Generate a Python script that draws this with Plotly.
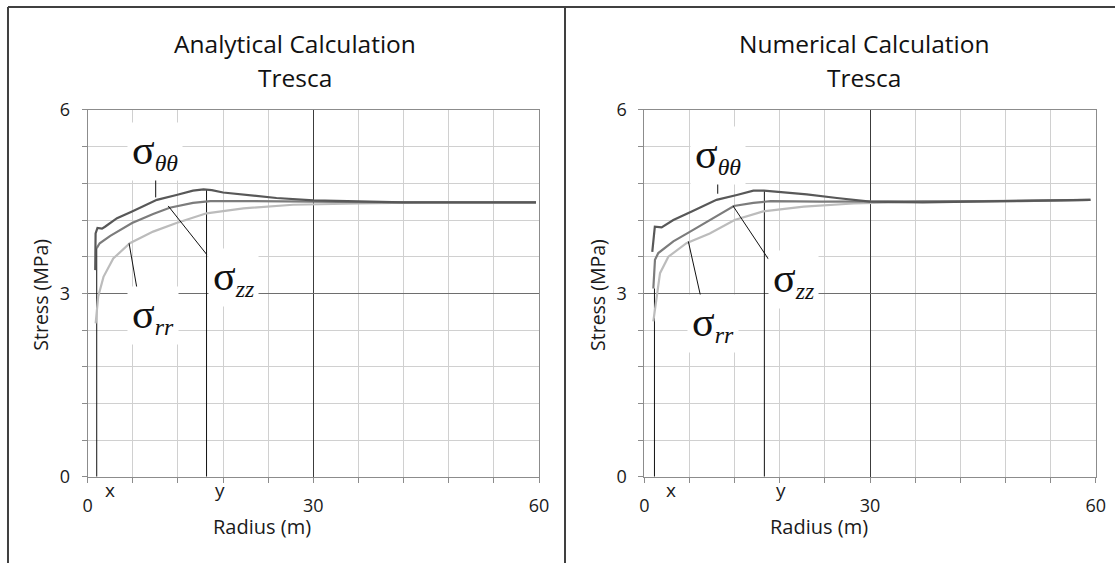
import plotly.graph_objects as go

# ---------------- data ----------------
# Analytical (left panel)
ana_r_tt = [1.0, 1.05, 1.3, 1.9, 2.3, 3.9, 5.9, 9.2, 11.8, 14.0, 15.4, 16.5, 18.0, 21.1, 25.1, 30.0, 36.0, 42.0, 50.0, 59.6]
ana_s_tt = [3.38, 3.98, 4.07, 4.06, 4.09, 4.23, 4.34, 4.53, 4.61, 4.68, 4.70, 4.69, 4.65, 4.61, 4.56, 4.52, 4.50, 4.49, 4.49, 4.49]
ana_r_zz = [1.2, 1.6, 3.0, 4.5, 5.9, 8.7, 10.9, 14.0, 16.3, 20.0, 23.0, 30.0, 40.0, 50.0, 59.6]
ana_s_zz = [3.74, 3.82, 3.94, 4.05, 4.15, 4.30, 4.40, 4.48, 4.51, 4.51, 4.51, 4.50, 4.49, 4.49, 4.49]
ana_r_rr = [1.06, 1.4, 2.1, 3.4, 5.6, 8.7, 11.8, 15.8, 20.7, 27.3, 36.2, 45.0, 59.6]
ana_s_rr = [2.51, 2.95, 3.27, 3.57, 3.82, 4.01, 4.15, 4.31, 4.39, 4.45, 4.47, 4.49, 4.49]
ana_marks = [1.2, 15.8]   # radii x and y

# Numerical (right panel)
num_r_tt = [1.06, 1.4, 2.3, 3.86, 6.3, 9.6, 12.3, 14.5, 15.9, 18.0, 21.6, 25.6, 30.0, 37.0, 45.0, 52.0, 59.3]
num_s_tt = [3.68, 4.09, 4.08, 4.20, 4.34, 4.53, 4.61, 4.68, 4.68, 4.66, 4.62, 4.56, 4.50, 4.49, 4.50, 4.51, 4.53]
num_r_zz = [1.2, 1.42, 1.86, 3.86, 6.1, 9.2, 11.9, 14.5, 16.8, 23.5, 30.0, 40.0, 50.0, 59.3]
num_s_zz = [3.08, 3.55, 3.66, 3.85, 4.01, 4.23, 4.43, 4.48, 4.51, 4.50, 4.50, 4.50, 4.51, 4.53]
num_r_rr = [1.2, 1.55, 2.09, 3.2, 5.6, 8.7, 12.0, 15.8, 21.2, 27.8, 37.0, 45.0, 59.3]
num_s_rr = [2.54, 2.89, 3.33, 3.60, 3.82, 3.98, 4.20, 4.34, 4.42, 4.47, 4.50, 4.51, 4.53]
num_marks = [1.35, 15.96]

mark_names = ["x", "y"]
titles = ["Analytical Calculation", "Numerical Calculation"]
subtitle = "Tresca"
x_title = "Radius (m)"
y_title = "Stress (MPa)"
SIG = '<span style="font-size:42px">σ</span>'
labels = [SIG + "<sub><i>θθ</i></sub>", SIG + "<sub><i>zz</i></sub>", SIG + "<sub><i>rr</i></sub>"]

# label positions (data coords) and leader lines, per panel
label_pos = [
    [(8.95, 5.32), (19.4, 3.26), (8.7, 2.63)],
    [(9.75, 5.25), (19.8, 3.22), (9.1, 2.50)],
]
leaders = [
    [((9.04, 4.98), (9.04, 4.57)), ((10.7, 4.43), (15.8, 3.64)), ((5.5, 3.82), (6.86, 2.86))],
    [((9.76, 4.88), (9.76, 4.63)), ((11.8, 4.43), (16.5, 3.56)), ((5.85, 3.85), (7.6, 2.89))],
]

colors = {"tt": "#585858", "zz": "#7c7c7c", "rr": "#bcbcbc"}
FONT = "Open Sans"

fig = go.Figure()

panels = [
    ("x", "y", [(ana_r_tt, ana_s_tt, "tt"), (ana_r_zz, ana_s_zz, "zz"), (ana_r_rr, ana_s_rr, "rr")], ana_marks),
    ("x2", "y2", [(num_r_tt, num_s_tt, "tt"), (num_r_zz, num_s_zz, "zz"), (num_r_rr, num_s_rr, "rr")], num_marks),
]

for xa, ya, series, marks in panels:
    tt_s = series[0][1]
    zz_s = series[1][1]
    tops = [zz_s[0], max(tt_s)]
    for m, top in zip(marks, tops):
        fig.add_trace(go.Scatter(x=[m, m], y=[0, top], mode="lines",
                                 line=dict(color="#111111", width=1),
                                 xaxis=xa, yaxis=ya, showlegend=False, hoverinfo="skip"))
    for r, s, key in reversed(series):
        fig.add_trace(go.Scatter(x=r, y=s, mode="lines",
                                 line=dict(color=colors[key], width=2.2),
                                 xaxis=xa, yaxis=ya, showlegend=False))

dom_x = [[0.07865, 0.48341], [0.57785, 0.98269]]
dom_y = [0.15328, 0.80462]

def xaxis_cfg(dom, anchor):
    return dict(domain=dom, anchor=anchor, range=[0, 60], dtick=30, tick0=0,
                showgrid=True, gridcolor="#3c3c3c", gridwidth=1,
                showline=True, linecolor="#8c8c8c", linewidth=1, mirror=True,
                ticks="outside", ticklen=5, tickcolor="#8c8c8c",
                ticklabelstandoff=8,
                minor=dict(dtick=6, tick0=0, showgrid=True, gridcolor="#d0d0d0", gridwidth=1,
                           ticks="outside", ticklen=5, tickcolor="#8c8c8c"),
                tickfont=dict(family=FONT, size=18, color="#1a1a1a"),
                zeroline=False, fixedrange=True, automargin=False)

def yaxis_cfg(anchor):
    return dict(domain=dom_y, anchor=anchor, range=[0, 6], dtick=3, tick0=0,
                showgrid=True, gridcolor="#6e6e6e", gridwidth=1,
                showline=True, linecolor="#8c8c8c", linewidth=1, mirror=True,
                ticks="outside", ticklen=5, tickcolor="#8c8c8c",
                ticklabelstandoff=8,
                minor=dict(dtick=0.6, tick0=0, showgrid=True, gridcolor="#d0d0d0", gridwidth=1,
                           ticks="outside", ticklen=5, tickcolor="#8c8c8c"),
                tickfont=dict(family=FONT, size=18, color="#1a1a1a"),
                zeroline=False, fixedrange=True, automargin=False)

annotations = []
shapes = []
title_x = [0.2646, 0.7749]
xt_x = [0.23498, 0.73453]
yt_x = [0.0356, 0.5354]
mark_shift = [6, 10]

def ann(**kw):
    kw.setdefault("showarrow", False)
    kw.setdefault("xanchor", "center")
    kw.setdefault("yanchor", "middle")
    return kw

for i, (xa, ya, series, marks) in enumerate(panels):
    annotations.append(ann(text=titles[i], x=title_x[i], y=0.92185, xref="paper", yref="paper",
                           font=dict(family=FONT, size=24.5, color="#111111")))
    annotations.append(ann(text=subtitle, x=title_x[i], y=0.86146, xref="paper", yref="paper",
                           font=dict(family=FONT, size=24.5, color="#111111")))
    annotations.append(ann(text=x_title, x=xt_x[i], y=0.064, xref="paper", yref="paper",
                           font=dict(family=FONT, size=20, color="#1a1a1a")))
    annotations.append(ann(text=y_title, x=yt_x[i], y=0.476, xref="paper", yref="paper",
                           textangle=-90, font=dict(family=FONT, size=19.5, color="#1a1a1a")))
    for name, m in zip(mark_names, marks):
        annotations.append(ann(text=name, x=m, y=0.1297, xref=xa, yref="paper",
                               xanchor="left", xshift=mark_shift[i],
                               font=dict(family=FONT, size=19, color="#1a1a1a")))
    for (p0, p1) in leaders[i]:
        shapes.append(dict(type="line", xref=xa, yref=ya, x0=p0[0], y0=p0[1], x1=p1[0], y1=p1[1],
                           line=dict(color="#111111", width=1)))
    for lab, (lx, ly) in zip(labels, label_pos[i]):
        annotations.append(ann(text=lab, x=lx, y=ly, xref=xa, yref=ya,
                               bgcolor="white", borderpad=4,
                               font=dict(family="Liberation Serif", size=34, color="#111111")))

# outer frame
frame_col = "#404040"
shapes += [
    dict(type="line", xref="paper", yref="paper", x0=0.00717, x1=1.0, y0=0.98757, y1=0.98757,
         line=dict(color=frame_col, width=2)),
    dict(type="line", xref="paper", yref="paper", x0=0.00717, x1=0.00717, y0=0.0, y1=0.98757,
         line=dict(color=frame_col, width=2)),
    dict(type="line", xref="paper", yref="paper", x0=0.50673, x1=0.50673, y0=0.0, y1=0.98757,
         line=dict(color=frame_col, width=2)),
]

fig.update_layout(
    width=1115, height=563,
    margin=dict(l=0, r=0, t=0, b=0, autoexpand=False),
    paper_bgcolor="white", plot_bgcolor="white",
    xaxis=xaxis_cfg(dom_x[0], "y"), yaxis=yaxis_cfg("x"),
    xaxis2=xaxis_cfg(dom_x[1], "y2"), yaxis2=yaxis_cfg("x2"),
    annotations=annotations, shapes=shapes,
    showlegend=False,
)

fig.write_html("out.html", config={"displayModeBar": False},
               post_script="document.body.style.margin='0';document.body.style.overflow='hidden';")
